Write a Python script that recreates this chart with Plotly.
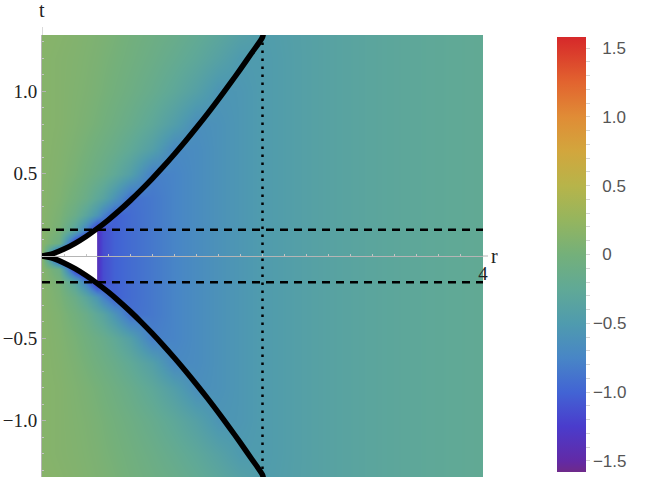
import plotly.graph_objects as go

# ---------------- data ----------------
# density field: columns at these r values, rows at these t levels (t >= 0; mirrored for t < 0)
r_cols = [0, 0.15, 0.3, 0.4, 0.5, 0.55, 0.65, 0.8, 1.0, 1.2, 1.4, 1.6, 1.8, 2.0, 2.5, 3.0, 3.5, 4.0]
t_levels = [0, 0.08, 0.16, 0.25, 0.35, 0.5, 0.65, 0.8, 1.0, 1.2, 1.345]

z_t0000 = [0.14, -1.60, -1.60, -1.60, -1.38, -1.15, -1.02, -0.94, -0.85, -0.76, -0.68, -0.61, -0.55, -0.49, -0.39, -0.32, -0.27, -0.23]
z_t0080 = [0.14, -0.10, -1.30, -1.60, -1.38, -1.15, -1.02, -0.94, -0.85, -0.76, -0.68, -0.61, -0.55, -0.49, -0.39, -0.32, -0.27, -0.23]
z_t0160 = [0.14, 0.02, -0.35, -0.80, -1.38, -1.15, -1.02, -0.94, -0.85, -0.76, -0.68, -0.61, -0.55, -0.49, -0.39, -0.32, -0.27, -0.23]
z_t0250 = [0.14, 0.05, -0.13, -0.33, -0.58, -0.78, -1.02, -0.94, -0.85, -0.76, -0.68, -0.61, -0.55, -0.49, -0.39, -0.32, -0.27, -0.23]
z_t0350 = [0.14, 0.08, -0.03, -0.13, -0.28, -0.36, -0.58, -0.92, -0.85, -0.76, -0.68, -0.61, -0.55, -0.49, -0.39, -0.32, -0.27, -0.23]
z_t0500 = [0.14, 0.10, 0.03, -0.04, -0.11, -0.15, -0.25, -0.43, -0.80, -0.76, -0.68, -0.61, -0.55, -0.49, -0.39, -0.32, -0.27, -0.23]
z_t0650 = [0.14, 0.11, 0.06, 0.01, -0.05, -0.08, -0.14, -0.25, -0.43, -0.71, -0.68, -0.61, -0.55, -0.49, -0.39, -0.32, -0.27, -0.23]
z_t0800 = [0.14, 0.12, 0.08, 0.05, 0.01, -0.02, -0.07, -0.15, -0.28, -0.45, -0.65, -0.61, -0.55, -0.49, -0.39, -0.32, -0.27, -0.23]
z_t1000 = [0.14, 0.12, 0.09, 0.07, 0.04, 0.02, -0.02, -0.08, -0.17, -0.28, -0.41, -0.57, -0.55, -0.49, -0.39, -0.32, -0.27, -0.23]
z_t1200 = [0.14, 0.12, 0.10, 0.08, 0.06, 0.04, 0.01, -0.04, -0.11, -0.19, -0.28, -0.39, -0.51, -0.49, -0.39, -0.32, -0.27, -0.23]
z_t1345 = [0.15, 0.13, 0.11, 0.09, 0.07, 0.06, 0.03, -0.02, -0.08, -0.14, -0.22, -0.31, -0.41, -0.48, -0.39, -0.32, -0.27, -0.23]

# caustic curves (upper and lower branch)
r_curve = [0, 0.1, 0.2, 0.3, 0.4, 0.5, 0.6, 0.7, 0.8, 0.9, 1.0, 1.1, 1.2, 1.3, 1.4, 1.5, 1.6, 1.7, 1.8, 1.9, 2.0, 2.01]
t_upper = [0, 0.0149, 0.0420, 0.0772, 0.1189, 0.1662, 0.2184, 0.2753, 0.3363, 0.4013, 0.47, 0.5422,
           0.6178, 0.6966, 0.7786, 0.8634, 0.9512, 1.0418, 1.1350, 1.2309, 1.3294, 1.36]
t_lower = [0, -0.0149, -0.0420, -0.0772, -0.1189, -0.1662, -0.2184, -0.2753, -0.3363, -0.4013, -0.47, -0.5422,
           -0.6178, -0.6966, -0.7786, -0.8634, -0.9512, -1.0418, -1.1350, -1.2309, -1.3294, -1.36]
cusp_r = 0.5          # edge of the blank region

dash_t = [0.16, -0.16]   # dashed horizontal lines
dot_r = 2.0              # dotted vertical line

t_range = [-1.342, 1.342]
r_range = [0, 4]
c_range = [-1.58, 1.58]
y_tickvals = [-1.0, -0.5, 0.5, 1.0]
y_ticktext = ["\u22121.0", "\u22120.5", "0.5", "1.0"]
cb_major = [-1.5, -1.0, -0.5, 0, 0.5, 1.0, 1.5]
cb_text = ["\u22121.5", "\u22121.0", "\u22120.5", "\u20070", "\u20070.5", "\u20071.0", "\u20071.5"]

# ---------------- build table ----------------
rows_pos = [z_t0000, z_t0080, z_t0160, z_t0250, z_t0350, z_t0500, z_t0650, z_t0800, z_t1000, z_t1200, z_t1345]
t_full = [-t for t in t_levels[:0:-1]] + t_levels
z_full = rows_pos[:0:-1] + rows_pos

def cval(v):
    return (v - c_range[0]) / (c_range[1] - c_range[0])

stops = [(-1.58, "#6e2a8a"), (-1.5, "#622aa6"), (-1.25, "#4a3ccc"), (-1.0, "#4264d4"),
         (-0.75, "#4886c6"), (-0.5, "#4f9bae"), (-0.25, "#60a996"), (0.0, "#74b07a"),
         (0.25, "#95b55e"), (0.5, "#b7b44a"), (0.75, "#d2a63d"), (1.0, "#e08c36"),
         (1.25, "#e2642f"), (1.5, "#d9362b"), (1.58, "#d6282a")]
colorscale = [[cval(v), c] for v, c in stops]

cb_tickvals = [round(-1.5 + 0.1 * i, 2) for i in range(31)]
cb_ticktext = []
for v in cb_tickvals:
    match = [abs(v - m) < 1e-9 for m in cb_major]
    cb_ticktext.append(cb_text[match.index(True)] if any(match) else "")

fig = go.Figure()

fig.add_trace(go.Heatmap(
    x=r_cols, y=t_full, z=z_full, zsmooth="best",
    zmin=c_range[0], zmax=c_range[1], colorscale=colorscale,
    colorbar=dict(
        x=(557 - 42) / 441, xanchor="left", xref="paper", xpad=0,
        y=(477 - 472) / 442, yanchor="bottom", len=435 / 442, lenmode="fraction", ypad=0,
        thickness=29, outlinewidth=0,
        tickmode="array", tickvals=cb_tickvals, ticktext=cb_ticktext,
        ticks="outside", ticklen=4, tickcolor="#d5d5d5", tickwidth=1,
        tickfont=dict(family="Liberation Sans, Arial, sans-serif", size=17, color="#555555"),
    ),
    hoverinfo="skip",
))

# blank region around the cusp
n_c = r_curve.index(cusp_r) + 1
wx = r_curve[:n_c] + r_curve[:n_c][::-1]
wy = t_upper[:n_c] + t_lower[:n_c][::-1]
fig.add_trace(go.Scatter(x=wx, y=wy, mode="lines", fill="toself", fillcolor="white",
                         line=dict(width=0, color="white"), hoverinfo="skip", showlegend=False))

# dashed horizontal lines
for tv in dash_t:
    fig.add_trace(go.Scatter(x=r_range, y=[tv, tv], mode="lines",
                             line=dict(color="black", width=2.5, dash="8px,6px"),
                             hoverinfo="skip", showlegend=False))

# dotted vertical line
fig.add_trace(go.Scatter(x=[dot_r, dot_r], y=t_range, mode="lines",
                         line=dict(color="black", width=2.5, dash="2.5px,5.5px"),
                         hoverinfo="skip", showlegend=False))

# caustic curves
for ty in (t_upper, t_lower):
    fig.add_trace(go.Scatter(x=r_curve, y=ty, mode="lines",
                             line=dict(color="black", width=5.5, shape="spline", smoothing=0.8),
                             hoverinfo="skip", showlegend=False))

serif = "Liberation Serif"
fig.update_layout(
    width=645, height=479,
    margin=dict(l=42, r=162, t=35, b=2, autoexpand=False),
    paper_bgcolor="white", plot_bgcolor="white",
    showlegend=False,
    xaxis=dict(range=r_range, anchor="free", position=0.5, showgrid=False, zeroline=False,
               automargin=False,
               showline=True, linecolor="#b5b5b5", linewidth=1,
               tickmode="array", tickvals=[4], ticktext=["4"],
               ticks="inside", ticklen=4, tickcolor="#b5b5b5",
               minor=dict(tickmode="linear", tick0=0, dtick=0.2, ticks="inside", ticklen=2, tickcolor="#c5c5c5"),
               tickfont=dict(family=serif, size=19, color="#222222")),
    yaxis=dict(range=t_range, showgrid=False, zeroline=False, automargin=False,
               showline=True, linecolor="#b5b5b5", linewidth=1,
               tickmode="array", tickvals=y_tickvals, ticktext=y_ticktext,
               ticks="inside", ticklen=4, tickcolor="#b5b5b5",
               minor=dict(tickmode="linear", tick0=0, dtick=0.1, ticks="inside", ticklen=2, tickcolor="#c5c5c5"),
               tickfont=dict(family=serif, size=19, color="#222222")),
    annotations=[
        dict(text="t", x=0, xref="paper", y=1 + (35 - 10) / 442, yref="paper", showarrow=False,
             xanchor="center", yanchor="middle", font=dict(family=serif, size=20, color="#222222")),
        dict(text="r", x=(494 - 42) / 441, xref="paper", y=0.5, yref="paper", showarrow=False,
             xanchor="center", yanchor="middle", font=dict(family=serif, size=20, color="#222222")),
    ],
    shapes=[
        dict(type="line", xref="x", yref="paper", x0=0, x1=0, y0=1, y1=1 + 8 / 442,
             line=dict(color="#b5b5b5", width=1)),
        dict(type="line", xref="paper", yref="paper", x0=1, x1=1 + 5 / 441, y0=0.5, y1=0.5,
             line=dict(color="#b5b5b5", width=1)),
    ],
)

# remove the default 8px page margin so the figure fills the window exactly
fig.write_html("out.html",
               config={"displayModeBar": False, "staticPlot": True},
               post_script="document.body.style.margin='0';document.body.style.overflow='hidden';")
